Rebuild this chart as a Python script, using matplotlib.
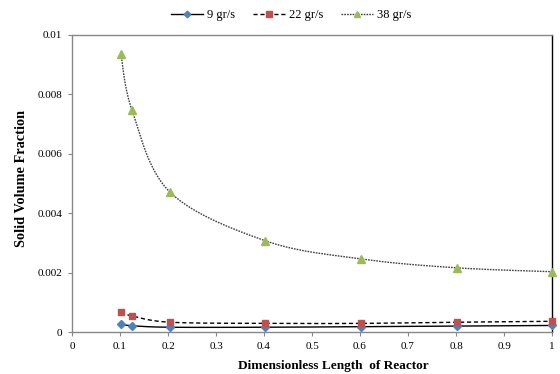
import numpy as np
import matplotlib
matplotlib.use("Agg")
import matplotlib.pyplot as plt

x_vals = [0.102, 0.125, 0.204, 0.403, 0.602, 0.802, 1.0]
s9 = [0.00027, 0.00021, 0.00016, 0.00016, 0.00018, 0.00020, 0.00022]
s22 = [0.00066, 0.00054, 0.00033, 0.00029, 0.00029, 0.00033, 0.00036]
s38 = [0.00936, 0.00747, 0.00471, 0.00307, 0.00246, 0.00216, 0.00203]
labels = ["9 gr/s", "22 gr/s", "38 gr/s"]
xticks = [0, 0.1, 0.2, 0.3, 0.4, 0.5, 0.6, 0.7, 0.8, 0.9, 1]
xticklabels = ["0", "0.1", "0.2", "0.3", "0.4", "0.5", "0.6", "0.7", "0.8", "0.9", "1"]
yticks = [0, 0.002, 0.004, 0.006, 0.008, 0.01]
yticklabels = ["0", "0.002", "0.004", "0.006", "0.008", "0.01"]

plt.rcParams['font.family'] = ['Liberation Serif', 'DejaVu Serif']

def smooth(xs, ys, xscale=1.0, yscale=0.01, n=30):
    px = np.array(xs) / xscale
    py = np.array(ys) / yscale
    P = np.column_stack([px, py])
    out = []
    m = len(P)
    for i in range(m - 1):
        p0 = P[i - 1] if i > 0 else P[i]
        p1 = P[i]
        p2 = P[i + 1]
        p3 = P[i + 2] if i + 2 < m else P[i + 1]
        c1 = p1 + (p2 - p0) / 6.0
        c2 = p2 - (p3 - p1) / 6.0
        t = np.linspace(0, 1, n)[:, None]
        seg = ((1 - t) ** 3) * p1 + 3 * ((1 - t) ** 2) * t * c1 + 3 * (1 - t) * t ** 2 * c2 + t ** 3 * p2
        out.append(seg if i == 0 else seg[1:])
    out = np.vstack(out)
    return out[:, 0] * xscale, out[:, 1] * yscale

fig = plt.figure(figsize=(5.6, 3.74), dpi=100)
ax = fig.add_axes([72/560, 1 - 332/374, 480/560, 297/374])

series = [
    (s9, '-', 'D', '#4F81BD', 4.0, 1.0, '#000000'),
    (s22, (0, (3, 2)), 's', '#C0504D', 5.0, 1.0, '#000000'),
    (s38, (0, (1.2, 0.8)), '^', '#9BBB59', 5.5, 1.0, '#404040'),
]
handles = []
for (ys, ls, mk, col, ms, lw, lc), lab in zip(series, labels):
    sx, sy = smooth(x_vals, ys)
    ax.plot(sx, sy, linestyle=ls, color=lc, linewidth=lw, zorder=2)
    ax.plot(x_vals, ys, linestyle='none', marker=mk, color=col, markersize=ms,
            markeredgecolor=col, zorder=3, clip_on=False)
    h, = ax.plot([], [], linestyle=ls, color=lc, linewidth=lw, marker=mk,
                 markerfacecolor=col, markeredgecolor=col, markersize=ms * 0.85)
    handles.append(h)

ax.set_xlim(0, 1)
ax.set_ylim(0, 0.01)
ax.set_xticks(xticks)
ax.set_xticklabels(xticklabels)
ax.set_yticks(yticks)
ax.set_yticklabels(yticklabels)
ax.tick_params(axis='both', labelsize=8, length=3, width=0.8, color='#888888', direction='out', pad=4)
for s in ['left', 'bottom', 'top']:
    ax.spines[s].set_color('#888888')
    ax.spines[s].set_linewidth(1.0)
ax.spines['right'].set_color('#000000')
ax.spines['right'].set_linewidth(1.0)

ax.set_xlabel('Dimensionless Length  of Reactor', fontsize=9.5, fontweight='bold')
ax.xaxis.set_label_coords(0.544, -0.095)
ax.set_ylabel('Solid Volume Fraction', fontsize=10.3, fontweight='bold')
ax.yaxis.set_label_coords(-0.092, 0.517)

fig.legend(handles, labels, loc='center', bbox_to_anchor=(0.52, 1 - 15/374), ncol=3,
           frameon=False, fontsize=9, handlelength=2.6, columnspacing=1.4, handletextpad=0.3)

fig.savefig('out.png', dpi=100)
